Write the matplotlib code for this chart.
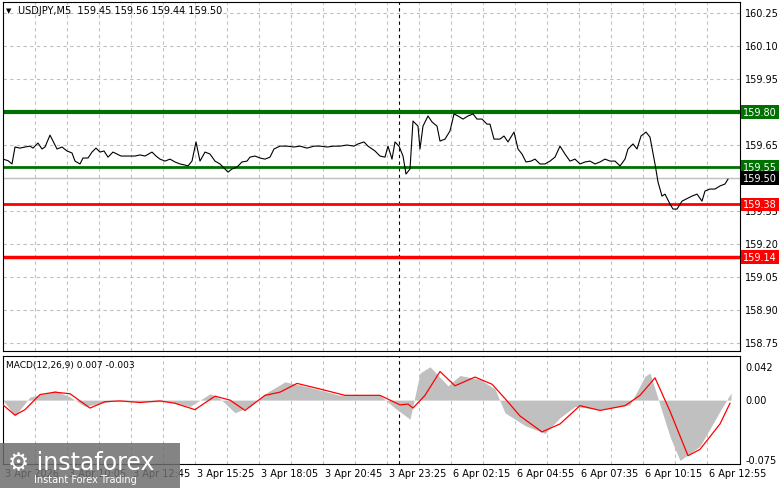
import matplotlib
matplotlib.use("Agg")
import matplotlib.pyplot as plt
from matplotlib.patches import Rectangle

# price path, bar index -> close, three segments
bars_a = [0, 2.5, 4.5, 6, 8.5, 11, 13.5, 15, 17.5, 19.5, 21, 23.5, 25, 27, 29.5, 32, 34.5, 36, 38.5, 40, 42.5, 44.5,
          46.5, 48.5, 50.5, 52.5, 55, 57, 59, 61, 63.5, 66, 68.5, 71, 74.5, 76.5, 78.5, 81, 83.5, 86, 88.5, 91,
          92.5, 94.5, 96.5, 98.5, 101, 103.5, 106, 108.5, 111, 112.5, 114.5, 117, 119.5, 122]
vals_a = [159.586, 159.579, 159.564, 159.641, 159.636, 159.641, 159.645, 159.636, 159.659, 159.632, 159.641, 159.695,
          159.668, 159.632, 159.641, 159.623, 159.614, 159.577, 159.564, 159.591, 159.591, 159.618, 159.636, 159.618,
          159.623, 159.595, 159.618, 159.609, 159.600, 159.600, 159.600, 159.600, 159.605, 159.600, 159.618, 159.600,
          159.586, 159.577, 159.586, 159.573, 159.564, 159.559, 159.555, 159.577, 159.664, 159.577, 159.618, 159.609,
          159.577, 159.564, 159.541, 159.527, 159.541, 159.550, 159.573, 159.577]
bars_b = [123.5, 126, 128.5, 131, 133.5, 135.5, 138.5, 142, 145.5, 148.5, 152, 155.5, 158.5, 162, 165.5, 168.5, 172,
          175.5, 177.5, 180.5, 182.5, 186, 188.5, 191, 192.5, 194.5, 196, 198, 200, 201.5, 203.5, 205, 207.5, 208.5,
          210, 212.5, 214.5, 217, 218.5, 221, 223.5, 225.5, 227.5, 230, 232.5, 235, 237, 239.5, 242]
vals_b = [159.595, 159.600, 159.591, 159.586, 159.595, 159.632, 159.645, 159.645, 159.641, 159.645, 159.636, 159.645,
          159.645, 159.641, 159.645, 159.645, 159.650, 159.645, 159.655, 159.664, 159.645, 159.623, 159.600, 159.595,
          159.645, 159.586, 159.664, 159.645, 159.600, 159.518, 159.541, 159.759, 159.736, 159.632, 159.736, 159.782,
          159.755, 159.736, 159.668, 159.677, 159.714, 159.791, 159.782, 159.768, 159.782, 159.791, 159.768, 159.768,
          159.745]
bars_c = [243.5, 245.5, 248.5, 250.5, 252.5, 255.5, 257.5, 259.5, 261.5, 264, 266, 268.5, 271, 273.5, 276, 278.5,
          281, 283.5, 286, 288.5, 291, 293.5, 296, 298.5, 301, 303.5, 306, 308.5, 311, 312.5, 315, 317, 319, 321.5,
          323.5, 326, 327.5, 329.5, 331, 333.5, 335, 337, 339.5, 342.5, 344.5, 347, 349.5, 351, 353.5, 356, 358.5,
          361, 362.5]
vals_c = [159.745, 159.677, 159.677, 159.691, 159.664, 159.709, 159.632, 159.609, 159.573, 159.577, 159.586, 159.564,
          159.564, 159.577, 159.595, 159.645, 159.609, 159.577, 159.586, 159.564, 159.573, 159.577, 159.564, 159.573,
          159.586, 159.577, 159.577, 159.555, 159.586, 159.632, 159.655, 159.632, 159.691, 159.709, 159.686, 159.564,
          159.482, 159.418, 159.427, 159.382, 159.359, 159.359, 159.395, 159.409, 159.418, 159.427, 159.395, 159.441,
          159.450, 159.450, 159.464, 159.473, 159.495]

# MACD: histogram (main) and signal line
hist_bars = [0, 6, 13.5, 21, 26, 33.5, 41, 48.5, 56, 73.5, 83.5, 93.5, 103.5, 108.5, 116, 123.5, 131, 141, 153.5,
             168.5, 188.5, 196, 203.5, 208.5, 213.5, 222.5, 228.5, 238.5, 246, 251, 261, 271, 278.5, 286, 298.5,
             313.5, 321, 323.5, 328.5, 333.5, 338.5, 348.5, 358.5, 364]
hist_vals = [0.0, -0.020, 0.004, 0.008, 0.012, 0.004, -0.008, -0.004, -0.001, -0.002, -0.002, -0.008, 0.008, 0.002,
             -0.016, -0.008, 0.008, 0.023, 0.016, 0.006, 0.006, -0.010, -0.024, 0.034, 0.042, 0.018, 0.031, 0.026,
             0.014, -0.016, -0.032, -0.042, -0.022, -0.008, -0.012, -0.006, 0.030, 0.034, -0.006, -0.046, -0.076,
             -0.058, -0.014, 0.009]
sig_bars = [0, 6, 11, 18.5, 26, 33.5, 43.5, 51, 58.5, 68.5, 78.5, 86, 96, 106, 113.5, 121, 131, 138.5, 147, 158.5,
            171, 188.5, 198.5, 202.5, 205, 211, 218.5, 226, 236, 244.5, 251, 258.5, 269.5, 278.5, 288.5, 298.5,
            311, 318.5, 326, 333.5, 342.5, 348.5, 358.5, 363.5]
sig_vals = [-0.006, -0.019, -0.012, 0.007, 0.010, 0.008, -0.010, -0.002, -0.001, -0.003, -0.001, -0.004, -0.012,
            0.005, 0.000, -0.013, 0.006, 0.010, 0.021, 0.014, 0.006, 0.006, -0.006, -0.005, -0.010, 0.006, 0.036,
            0.018, 0.029, 0.020, 0.002, -0.020, -0.040, -0.030, -0.007, -0.013, -0.007, 0.006, 0.028, -0.014,
            -0.070, -0.062, -0.030, -0.004]

price_ticks = [158.75, 158.90, 159.05, 159.20, 159.35, 159.65, 159.95, 160.10, 160.25]
time_labels = ["3 Apr 2026", "3 Apr 10:05", "3 Apr 12:45", "3 Apr 15:25", "3 Apr 18:05", "3 Apr 20:45",
               "3 Apr 23:25", "6 Apr 02:15", "6 Apr 04:55", "6 Apr 07:35", "6 Apr 10:15", "6 Apr 12:55"]
levels = [(159.80, "#007000", 3.0), (159.55, "#007000", 2.0), (159.38, "#ff0000", 2.0), (159.14, "#ff0000", 2.5)]
last_price = 159.50

W, H = 781, 489
fig = plt.figure(figsize=(W / 100, H / 100), dpi=100)
ax = fig.add_axes([3 / W, 1 - 352 / H, 737 / W, 349 / H])
ax2 = fig.add_axes([3 / W, 1 - 465 / H, 737 / W, 108 / H])
xmax = 368.5
grid_kw = dict(color="#c0c0c0", lw=0.8, ls=(0, (3, 3)))
label_pos = [32 * i for i in range(len(time_labels))]

for a in (ax, ax2):
    a.set_xlim(0, xmax)
    a.set_xticks([])
    a.set_yticks([])
    for s in a.spines.values():
        s.set_color("black")
        s.set_linewidth(0.8)
    for gx in range(16, int(xmax), 16):
        a.axvline(gx, zorder=0, **grid_kw)
    a.axvline(198, color="black", lw=0.8, ls=(0, (3, 3)), zorder=1)

# main panel
ax.set_ylim(158.714, 160.30)
for p in price_ticks + [159.50, 159.80]:
    ax.axhline(p, zorder=0, **grid_kw)
for p in price_ticks:
    ax.text(1.007, p, f"{p:.2f}", transform=ax.get_yaxis_transform(), fontsize=7, va="center", ha="left")
ax.axhline(last_price, color="#c0c0c0", lw=1, zorder=1)
for lv, col, lw in levels:
    ax.axhline(lv, color=col, lw=lw, zorder=2)
ax.plot(bars_a + bars_b + bars_c, vals_a + vals_b + vals_c, color="black", lw=0.8, zorder=3)
for lv, col, lw in levels + [(last_price, "black", 0)]:
    ax.text(1.004, lv, f"{lv:.2f}", transform=ax.get_yaxis_transform(), fontsize=7, va="center", ha="left",
            color="white", bbox=dict(boxstyle="square,pad=0.2", fc=col, ec="none"), zorder=5, clip_on=False)
ax.text(0.004, 0.985, "\u25bc", transform=ax.transAxes, fontsize=5, va="top")
ax.text(0.02, 0.99, "USDJPY,M5  159.45 159.56 159.44 159.50", transform=ax.transAxes, fontsize=7, va="top")

# MACD panel
ax2.set_ylim(-0.0804, 0.0555)
for p in [0.042, 0.0, -0.075]:
    ax2.text(1.007, p, f"{p:.3f}" if p else "0.00", transform=ax2.get_yaxis_transform(), fontsize=7,
             va="center", ha="left")
ax2.fill_between(hist_bars, 0, hist_vals, color="#c0c0c0", lw=0, zorder=2)
ax2.plot(sig_bars, sig_vals, color="#ff0000", lw=0.9, zorder=3)
ax2.text(0.004, 0.96, "MACD(12,26,9) 0.007 -0.003", transform=ax2.transAxes, fontsize=6.5, va="top")
for b, lab in zip(label_pos, time_labels):
    ax2.text(b + 1, -0.085, lab, fontsize=7, va="top", ha="left", clip_on=False)

# watermark
fig.patches.append(Rectangle((0, 0), 180 / W, 45 / H, transform=fig.transFigure, fc="#6e6e6e", alpha=0.85,
                             ec="none", zorder=10))
fig.text(8 / W, 27 / H, "\u2699 instaforex", color="white", fontsize=17, va="center", zorder=11)
fig.text(34 / W, 9 / H, "Instant Forex Trading", color="white", fontsize=7, va="center", zorder=11)

fig.savefig("out.png", dpi=100)
